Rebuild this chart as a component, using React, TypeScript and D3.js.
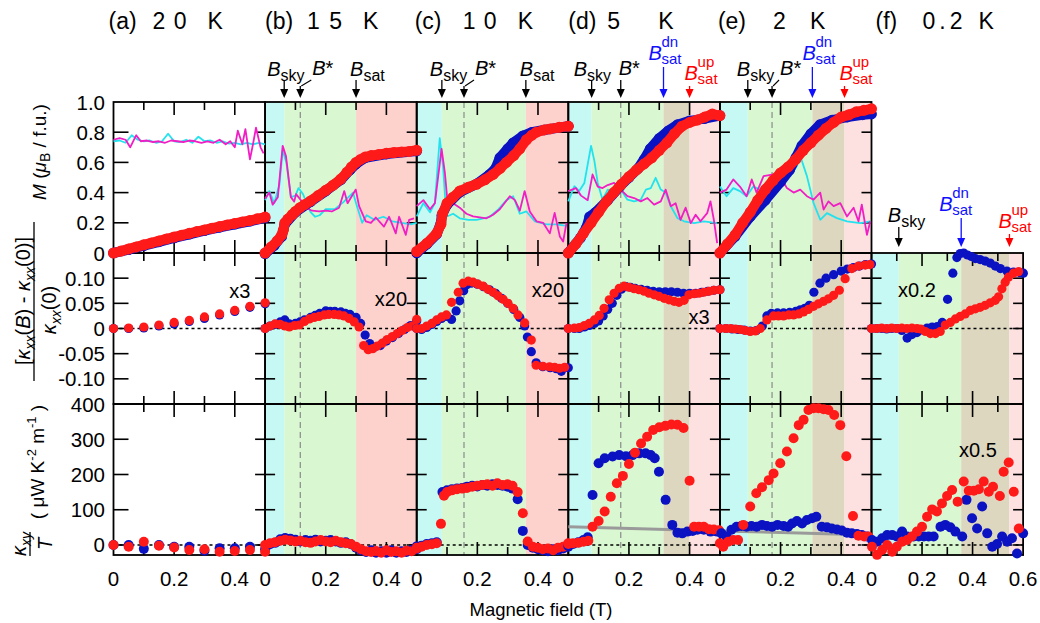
import React from "react";
import * as d3 from "d3";

type Pt = [number, number];

// ---------------- panel meta ----------------
const panelLetters = ["(a)", "(b)", "(c)", "(d)", "(e)", "(f)"];
const panelTemps = ["2 0", "1 5", "1 0", "5", "2", "0.2"];
const tempSpacing = [1, 1.5, 1, 0, 0, 4];
const titleLetterDx = [-5, 0, -2, 0, -2, 4];
const titleTempDx = [39, 42, 46, 39, 53, 51];
const titleKDx = [94, 98, 101, 90, 90, 107];
const panelXMax = [0.5, 0.5, 0.5, 0.5, 0.5, 0.6];
const xTickValues = [
  [0, 0.2, 0.4], [0, 0.2, 0.4], [0, 0.2, 0.4], [0, 0.2, 0.4], [0, 0.2, 0.4], [0, 0.2, 0.4, 0.6],
];
const yTicksM = [0, 0.2, 0.4, 0.6, 0.8, 1.0];
const yTicksK = [0.1, 0.05, 0, -0.05, -0.1];
const yTicksH = [400, 300, 200, 100, 0];

// characteristic fields (T)
const bSky = [NaN, 0.063, 0.083, 0.077, 0.092, 0.108];
const bStar = [NaN, 0.116, 0.156, 0.173, 0.172, NaN];
const bSatDn = [NaN, 0.30, 0.36, 0.314, 0.305, 0.355];
const bSatUp = [NaN, 0.30, 0.36, 0.40, 0.411, 0.546];
const skyLabelDx = [0, -17, -12, -18, -11, -11];
const starLabelDx = [0, 12, 11, -2, 8, 0];
const starSlant = [false, true, true, false, true, false];
const satLabelDx = [0, -6, -6, 0, 0, 0];
const satDnLabelDx = [0, 0, 0, -15, -10, -22];
const satUpLabelDx = [0, 0, 0, -5, -5, -11];

// ---------------- Row 1 : M (muB / f.u.) ----------------
const mA_red: Pt[] = [[0,0],[0.025,0.013],[0.05,0.027],[0.075,0.04],[0.1,0.054],[0.125,0.067],[0.15,0.08],[0.175,0.093],[0.2,0.106],[0.225,0.118],[0.25,0.13],[0.275,0.142],[0.3,0.153],[0.325,0.164],[0.35,0.175],[0.375,0.186],[0.4,0.196],[0.425,0.206],[0.45,0.215],[0.475,0.226],[0.5,0.238]];
const mA_blue: Pt[] = [[0,0],[0.05,0.022],[0.1,0.048],[0.15,0.074],[0.2,0.1],[0.25,0.124],[0.3,0.148],[0.35,0.17],[0.4,0.19],[0.45,0.21],[0.5,0.232]];
const mA_cyan: Pt[] = [[0,0.74],[0.02,0.745],[0.04,0.73],[0.06,0.78],[0.08,0.75],[0.1,0.74],[0.12,0.745],[0.14,0.73],[0.16,0.74],[0.18,0.79],[0.2,0.74],[0.22,0.735],[0.24,0.75],[0.26,0.73],[0.28,0.77],[0.3,0.74],[0.32,0.745],[0.34,0.73],[0.36,0.74],[0.38,0.725],[0.4,0.73],[0.42,0.72],[0.44,0.73],[0.46,0.72],[0.48,0.73],[0.5,0.72]];
const mA_mag: Pt[] = [[0,0.75],[0.02,0.76],[0.04,0.75],[0.055,0.7],[0.075,0.78],[0.09,0.74],[0.11,0.745],[0.13,0.735],[0.15,0.74],[0.17,0.73],[0.19,0.745],[0.21,0.74],[0.23,0.735],[0.25,0.745],[0.27,0.74],[0.29,0.73],[0.31,0.74],[0.33,0.73],[0.35,0.75],[0.37,0.72],[0.385,0.74],[0.4,0.7],[0.41,0.81],[0.425,0.72],[0.435,0.82],[0.45,0.62],[0.46,0.72],[0.47,0.83],[0.485,0.7],[0.495,0.66]];

const mB_red: Pt[] = [[0,0],[0.02,0.04],[0.04,0.08],[0.055,0.12],[0.06,0.15],[0.065,0.2],[0.075,0.225],[0.09,0.255],[0.1,0.275],[0.115,0.3],[0.13,0.32],[0.15,0.345],[0.175,0.38],[0.2,0.415],[0.225,0.45],[0.25,0.49],[0.27,0.535],[0.285,0.57],[0.3,0.6],[0.315,0.62],[0.33,0.635],[0.35,0.645],[0.375,0.652],[0.4,0.66],[0.425,0.665],[0.45,0.669],[0.475,0.673],[0.5,0.68]];
const mB_blue: Pt[] = [[0,-0.005],[0.03,0.05],[0.055,0.11],[0.065,0.19],[0.1,0.27],[0.15,0.34],[0.2,0.41],[0.25,0.485],[0.28,0.55],[0.3,0.59],[0.33,0.63],[0.4,0.655],[0.5,0.675]];
const mB_cyan: Pt[] = [[0,0.35],[0.014,0.41],[0.03,0.33],[0.047,0.45],[0.058,0.68],[0.07,0.6],[0.085,0.37],[0.1,0.38],[0.11,0.43],[0.125,0.39],[0.15,0.27],[0.165,0.24],[0.18,0.25],[0.2,0.29],[0.23,0.29],[0.26,0.34],[0.29,0.4],[0.3,0.33],[0.32,0.2],[0.335,0.25],[0.36,0.22],[0.39,0.24],[0.42,0.21],[0.45,0.2],[0.48,0.19],[0.5,0.2]];
const mB_mag: Pt[] = [[0,0.36],[0.014,0.4],[0.025,0.32],[0.042,0.37],[0.058,0.71],[0.069,0.64],[0.085,0.37],[0.096,0.34],[0.102,0.39],[0.118,0.35],[0.135,0.3],[0.155,0.28],[0.178,0.275],[0.2,0.28],[0.22,0.275],[0.244,0.3],[0.261,0.41],[0.272,0.33],[0.299,0.42],[0.31,0.31],[0.332,0.21],[0.349,0.2],[0.365,0.235],[0.392,0.175],[0.409,0.24],[0.431,0.13],[0.442,0.24],[0.464,0.12],[0.475,0.22],[0.491,0.23]];

const mC_red: Pt[] = [[0,0.01],[0.034,0.065],[0.066,0.13],[0.08,0.19],[0.085,0.26],[0.1,0.33],[0.12,0.37],[0.142,0.41],[0.17,0.435],[0.197,0.455],[0.225,0.485],[0.252,0.52],[0.275,0.56],[0.296,0.6],[0.32,0.645],[0.34,0.69],[0.362,0.75],[0.38,0.78],[0.395,0.8],[0.42,0.815],[0.44,0.822],[0.47,0.832],[0.5,0.84]];
const mC_blue: Pt[] = [[0,0],[0.034,0.06],[0.066,0.125],[0.08,0.2],[0.083,0.25],[0.1,0.32],[0.14,0.4],[0.2,0.46],[0.24,0.52],[0.26,0.56],[0.274,0.63],[0.3,0.69],[0.318,0.73],[0.35,0.776],[0.38,0.8],[0.42,0.815],[0.5,0.84]];
const mC_cyan: Pt[] = [[0,0.242],[0.022,0.33],[0.044,0.27],[0.06,0.33],[0.076,0.76],[0.087,0.57],[0.098,0.24],[0.12,0.26],[0.142,0.23],[0.17,0.22],[0.197,0.22],[0.22,0.23],[0.241,0.24],[0.27,0.29],[0.296,0.35],[0.318,0.376],[0.34,0.26],[0.362,0.275],[0.39,0.21],[0.428,0.19],[0.461,0.19],[0.494,0.18]];
const mC_mag: Pt[] = [[0,0.31],[0.022,0.35],[0.044,0.29],[0.06,0.33],[0.082,0.69],[0.093,0.53],[0.104,0.29],[0.12,0.33],[0.142,0.3],[0.164,0.26],[0.186,0.242],[0.23,0.23],[0.252,0.253],[0.274,0.29],[0.307,0.376],[0.324,0.35],[0.34,0.28],[0.356,0.41],[0.373,0.275],[0.395,0.21],[0.417,0.2],[0.439,0.13],[0.455,0.266],[0.472,0.11],[0.483,0.076],[0.494,0.2]];

const mD_red: Pt[] = [[0,0],[0.025,0.06],[0.05,0.13],[0.075,0.2],[0.1,0.27],[0.125,0.34],[0.15,0.4],[0.175,0.455],[0.2,0.505],[0.225,0.55],[0.25,0.59],[0.275,0.63],[0.3,0.68],[0.325,0.73],[0.35,0.79],[0.375,0.84],[0.4,0.865],[0.425,0.88],[0.45,0.9],[0.475,0.92],[0.5,0.91]];
const mD_blue: Pt[] = [[0,0],[0.04,0.1],[0.06,0.17],[0.07,0.24],[0.09,0.27],[0.13,0.35],[0.17,0.44],[0.2,0.5],[0.23,0.56],[0.25,0.62],[0.27,0.69],[0.3,0.76],[0.33,0.81],[0.36,0.85],[0.4,0.875],[0.45,0.89],[0.5,0.91]];
const mD_cyan: Pt[] = [[0,0.342],[0.02,0.442],[0.036,0.41],[0.053,0.464],[0.075,0.71],[0.086,0.61],[0.097,0.464],[0.113,0.353],[0.13,0.42],[0.151,0.4],[0.173,0.42],[0.195,0.353],[0.217,0.342],[0.239,0.353],[0.256,0.42],[0.272,0.43],[0.288,0.498],[0.305,0.42],[0.321,0.4],[0.338,0.31],[0.36,0.231],[0.382,0.21],[0.415,0.198],[0.447,0.21],[0.491,0.198]];
const mD_mag: Pt[] = [[0,0.41],[0.025,0.43],[0.042,0.38],[0.064,0.35],[0.08,0.52],[0.097,0.44],[0.113,0.43],[0.13,0.45],[0.151,0.464],[0.173,0.42],[0.195,0.376],[0.217,0.364],[0.239,0.342],[0.261,0.364],[0.283,0.32],[0.305,0.342],[0.321,0.42],[0.338,0.31],[0.354,0.33],[0.37,0.22],[0.387,0.3],[0.404,0.198],[0.42,0.253],[0.436,0.21],[0.458,0.264],[0.469,0.342],[0.48,0.22],[0.491,0.066]];

const mE_red: Pt[] = [[0,0],[0.025,0.06],[0.05,0.12],[0.075,0.2],[0.1,0.27],[0.125,0.35],[0.15,0.42],[0.175,0.48],[0.2,0.53],[0.225,0.57],[0.25,0.62],[0.275,0.68],[0.3,0.73],[0.325,0.78],[0.35,0.825],[0.375,0.865],[0.4,0.9],[0.425,0.915],[0.45,0.935],[0.475,0.945],[0.5,0.955]];
const mE_blue: Pt[] = [[0,0],[0.05,0.11],[0.1,0.24],[0.15,0.35],[0.2,0.47],[0.23,0.55],[0.25,0.63],[0.27,0.71],[0.3,0.79],[0.33,0.85],[0.37,0.88],[0.42,0.9],[0.47,0.915],[0.5,0.92]];
const mE_cyan: Pt[] = [[0,0.44],[0.022,0.376],[0.044,0.43],[0.066,0.41],[0.088,0.376],[0.11,0.44],[0.133,0.42],[0.155,0.453],[0.177,0.487],[0.199,0.52],[0.232,0.509],[0.254,0.576],[0.265,0.642],[0.287,0.509],[0.309,0.33],[0.331,0.22],[0.353,0.264],[0.386,0.231],[0.419,0.21],[0.463,0.198],[0.496,0.21]];
const mE_mag: Pt[] = [[0,0.4],[0.022,0.42],[0.044,0.487],[0.066,0.44],[0.088,0.376],[0.105,0.487],[0.121,0.4],[0.144,0.509],[0.177,0.52],[0.199,0.509],[0.221,0.43],[0.243,0.4],[0.265,0.42],[0.287,0.376],[0.309,0.353],[0.331,0.4],[0.342,0.287],[0.358,0.342],[0.375,0.31],[0.397,0.33],[0.419,0.242],[0.441,0.3],[0.457,0.21],[0.468,0.32],[0.485,0.12],[0.496,0.21]];

// ---------------- Row 2 : [kxx(B)-kxx(0)]/kxx(0) ----------------
const kA_red: Pt[] = [[0,0],[0.05,0.001],[0.1,0.003],[0.15,0.007],[0.2,0.012],[0.25,0.016],[0.3,0.023],[0.35,0.029],[0.4,0.036],[0.45,0.044],[0.5,0.051]];
const kA_blue: Pt[] = [[0,0],[0.05,0.0],[0.1,0.001],[0.15,0.005],[0.2,0.009],[0.25,0.014],[0.3,0.02],[0.35,0.027],[0.4,0.034],[0.45,0.042],[0.5,0.049]];
const kB_red: Pt[] = [[0,0],[0.016,0.005],[0.033,0.009],[0.05,0.008],[0.065,0.005],[0.08,0.003],[0.097,0.006],[0.113,0.007],[0.13,0.014],[0.146,0.019],[0.162,0.022],[0.178,0.024],[0.195,0.027],[0.21,0.028],[0.228,0.028],[0.244,0.027],[0.26,0.025],[0.277,0.02],[0.294,0.013],[0.31,0.003],[0.325,-0.034],[0.34,-0.042],[0.355,-0.04],[0.37,-0.035],[0.387,-0.029],[0.403,-0.022],[0.42,-0.016],[0.436,-0.01],[0.452,-0.004],[0.469,0.002],[0.485,0.005],[0.5,0.018]];
const kB_blue: Pt[] = [[0,0],[0.016,0.005],[0.033,0.008],[0.05,0.013],[0.065,0.017],[0.08,0.009],[0.1,0.01],[0.115,0.013],[0.13,0.017],[0.15,0.022],[0.165,0.026],[0.18,0.03],[0.2,0.035],[0.215,0.034],[0.23,0.034],[0.25,0.033],[0.265,0.03],[0.28,0.028],[0.3,0.022],[0.315,0.01],[0.33,-0.013],[0.345,-0.03],[0.36,-0.037],[0.38,-0.034],[0.4,-0.025],[0.42,-0.018],[0.44,-0.01],[0.46,-0.002],[0.48,0.006],[0.5,0.015]];
const kC_red: Pt[] = [[0,0],[0.016,0],[0.033,0.005],[0.05,0.01],[0.066,0.017],[0.082,0.023],[0.098,0.027],[0.115,0.052],[0.137,0.072],[0.153,0.09],[0.17,0.094],[0.186,0.092],[0.202,0.088],[0.219,0.084],[0.235,0.078],[0.252,0.072],[0.268,0.065],[0.285,0.058],[0.301,0.05],[0.318,0.04],[0.334,0.027],[0.356,0.011],[0.378,-0.023],[0.394,-0.073],[0.416,-0.075],[0.438,-0.076],[0.455,-0.077],[0.471,-0.079],[0.488,-0.077]];
const kC_blue: Pt[] = [[0,0],[0.016,-0.002],[0.033,0.002],[0.05,0.008],[0.066,0.014],[0.082,0.02],[0.1,0.024],[0.115,0.018],[0.13,0.035],[0.142,0.055],[0.155,0.075],[0.165,0.087],[0.18,0.09],[0.2,0.088],[0.22,0.083],[0.24,0.077],[0.26,0.07],[0.28,0.06],[0.3,0.05],[0.32,0.038],[0.34,0.022],[0.356,0.005],[0.365,-0.017],[0.378,-0.046],[0.394,-0.068],[0.416,-0.076],[0.44,-0.078],[0.46,-0.08],[0.477,-0.085],[0.5,-0.078]];
const kD_red: Pt[] = [[0,0],[0.02,0.001],[0.036,0.002],[0.053,0.006],[0.069,0.01],[0.086,0.017],[0.102,0.026],[0.118,0.04],[0.135,0.057],[0.151,0.07],[0.168,0.08],[0.184,0.084],[0.2,0.082],[0.217,0.079],[0.233,0.077],[0.25,0.074],[0.266,0.07],[0.283,0.067],[0.299,0.064],[0.316,0.06],[0.332,0.057],[0.349,0.054],[0.365,0.052],[0.382,0.056],[0.398,0.067],[0.415,0.069],[0.431,0.07],[0.447,0.072],[0.464,0.074],[0.48,0.076],[0.5,0.077]];
const kD_blue: Pt[] = [[0,0],[0.02,0.0],[0.036,0.0],[0.053,0.003],[0.07,0.006],[0.086,0.01],[0.1,0.015],[0.115,0.025],[0.13,0.038],[0.145,0.05],[0.16,0.066],[0.175,0.078],[0.19,0.083],[0.205,0.082],[0.22,0.08],[0.24,0.078],[0.26,0.076],[0.28,0.074],[0.3,0.073],[0.32,0.073],[0.34,0.073],[0.36,0.072],[0.38,0.07],[0.4,0.07],[0.42,0.07],[0.44,0.072],[0.46,0.074],[0.48,0.076],[0.5,0.077]];
const kE_red: Pt[] = [[0,0],[0.019,0],[0.035,0],[0.051,-0.001],[0.068,-0.002],[0.084,-0.004],[0.1,-0.006],[0.117,-0.005],[0.133,0],[0.155,0.017],[0.177,0.025],[0.193,0.025],[0.21,0.025],[0.227,0.027],[0.243,0.027],[0.26,0.029],[0.276,0.033],[0.292,0.038],[0.309,0.044],[0.325,0.049],[0.342,0.054],[0.358,0.059],[0.375,0.066],[0.394,0.076],[0.413,0.099],[0.435,0.119],[0.457,0.124],[0.479,0.126],[0.495,0.127]];
const kE_blue: Pt[] = [[0,0],[0.02,0],[0.04,-0.001],[0.06,-0.002],[0.08,-0.003],[0.1,-0.005],[0.12,-0.004],[0.14,0.005],[0.155,0.025],[0.17,0.03],[0.19,0.031],[0.21,0.031],[0.23,0.032],[0.25,0.034],[0.265,0.037],[0.28,0.04],[0.295,0.046],[0.31,0.072],[0.33,0.09],[0.35,0.1],[0.375,0.107],[0.4,0.114],[0.42,0.118],[0.44,0.121],[0.46,0.124],[0.48,0.127],[0.5,0.128]];
const kF_red: Pt[] = [[0,0],[0.02,0],[0.04,0.001],[0.06,0],[0.08,0.001],[0.1,0],[0.12,0.001],[0.14,0],[0.16,0.001],[0.18,0],[0.195,-0.001],[0.213,-0.006],[0.233,-0.01],[0.253,-0.01],[0.272,-0.006],[0.292,0.007],[0.312,0.012],[0.332,0.019],[0.351,0.024],[0.371,0.029],[0.391,0.036],[0.411,0.039],[0.43,0.042],[0.45,0.046],[0.47,0.051],[0.49,0.056],[0.503,0.063],[0.516,0.079],[0.529,0.092],[0.542,0.102],[0.562,0.11],[0.582,0.113]];
const kF_blue: Pt[] = [[0,0],[0.02,0],[0.04,0],[0.06,-0.001],[0.08,0],[0.1,0],[0.12,-0.004],[0.141,-0.019],[0.16,-0.012],[0.18,-0.008],[0.2,-0.003],[0.22,0.001],[0.24,0.003],[0.26,0.004],[0.28,0.012],[0.301,0.058],[0.322,0.11],[0.338,0.141],[0.351,0.149],[0.365,0.15],[0.38,0.146],[0.395,0.143],[0.411,0.139],[0.43,0.137],[0.45,0.134],[0.47,0.13],[0.49,0.124],[0.51,0.119],[0.536,0.114],[0.562,0.112],[0.588,0.111],[0.601,0.11]];

// ---------------- Row 3 : kxy/T ----------------
const hA_red: Pt[] = [[0,0],[0.05,-5],[0.1,9],[0.15,-2],[0.2,-7],[0.25,-14],[0.3,-12],[0.35,-19],[0.4,-17],[0.45,-14],[0.5,-19]];
const hA_blue: Pt[] = [[0,0],[0.05,0],[0.1,-11],[0.15,0],[0.2,-5],[0.25,-5],[0.3,-16],[0.35,-9],[0.4,-9],[0.45,-5],[0.5,-12]];
const hB_red: Pt[] = [[0,0],[0.016,5],[0.033,8],[0.05,12],[0.066,15],[0.083,13],[0.1,10],[0.116,12],[0.133,8],[0.15,6],[0.166,10],[0.183,14],[0.2,10],[0.216,8],[0.233,12],[0.25,8],[0.266,5],[0.283,3],[0.3,-5],[0.316,-12],[0.333,-18],[0.35,-20],[0.366,-17],[0.383,-22],[0.4,-15],[0.416,-20],[0.433,-18],[0.45,-22],[0.466,-16],[0.483,-18],[0.5,-10]];
const hB_blue: Pt[] = [[0.016,2],[0.033,6],[0.05,16],[0.066,20],[0.083,18],[0.1,15],[0.116,10],[0.133,14],[0.15,12],[0.166,15],[0.183,10],[0.2,12],[0.216,14],[0.233,10],[0.25,6],[0.266,8],[0.283,2],[0.3,-8],[0.316,-15],[0.333,-20],[0.35,-15],[0.366,-22],[0.383,-18],[0.4,-22],[0.416,-15],[0.433,-22],[0.45,-18],[0.466,-20],[0.483,-14],[0.5,-12]];
const hC_red: Pt[] = [[0,-8],[0.016,-5],[0.033,0],[0.05,2],[0.066,5],[0.08,60],[0.09,140],[0.1,150],[0.116,155],[0.133,158],[0.15,160],[0.166,162],[0.183,165],[0.2,168],[0.216,170],[0.233,172],[0.25,168],[0.266,175],[0.283,170],[0.3,172],[0.316,168],[0.333,150],[0.35,90],[0.366,10],[0.383,-5],[0.4,-8],[0.416,-12],[0.433,-10],[0.45,-15],[0.466,-8],[0.483,-5],[0.5,5]];
const hC_blue: Pt[] = [[0,-4],[0.016,-2],[0.033,3],[0.05,5],[0.066,8],[0.085,150],[0.1,155],[0.116,158],[0.133,160],[0.15,162],[0.166,165],[0.183,168],[0.2,166],[0.216,170],[0.233,168],[0.25,172],[0.266,170],[0.283,168],[0.3,165],[0.316,160],[0.333,130],[0.35,40],[0.366,0],[0.383,-8],[0.4,-12],[0.416,-15],[0.433,-18],[0.45,-12],[0.466,-15],[0.483,-10],[0.5,-5]];
const hD_red: Pt[] = [[0,3],[0.016,5],[0.033,6],[0.05,9],[0.066,12],[0.08,52],[0.1,68],[0.12,95],[0.14,137],[0.16,175],[0.18,196],[0.2,230],[0.22,262],[0.24,288],[0.26,307],[0.28,326],[0.3,334],[0.32,338],[0.34,342],[0.36,341],[0.38,332],[0.4,182],[0.415,52],[0.431,52],[0.447,52],[0.464,45],[0.48,44],[0.497,42]];
const hD_blue: Pt[] = [[0,-3],[0.016,3],[0.033,8],[0.05,14],[0.064,22],[0.08,142],[0.1,232],[0.12,246],[0.146,251],[0.168,255],[0.19,252],[0.212,255],[0.234,260],[0.255,260],[0.272,255],[0.285,246],[0.299,208],[0.321,128],[0.343,57],[0.36,35],[0.376,33],[0.393,38],[0.41,40],[0.426,43],[0.447,43],[0.469,38],[0.491,38]];
const hE_red: Pt[] = [[0,5],[0.011,-5],[0.027,9],[0.044,14],[0.06,14],[0.077,57],[0.1,109],[0.12,147],[0.139,164],[0.161,184],[0.177,203],[0.199,232],[0.221,265],[0.243,303],[0.26,340],[0.276,355],[0.292,383],[0.309,388],[0.325,388],[0.342,385],[0.358,383],[0.377,369],[0.397,340],[0.417,252],[0.439,82],[0.457,26],[0.476,24],[0.49,24]];
const hE_blue: Pt[] = [[0.005,33],[0.022,24],[0.038,43],[0.055,52],[0.071,54],[0.088,52],[0.104,54],[0.121,52],[0.139,57],[0.155,54],[0.172,52],[0.19,57],[0.21,54],[0.225,52],[0.238,61],[0.254,68],[0.271,61],[0.287,71],[0.304,76],[0.318,80],[0.336,52],[0.353,50],[0.369,47],[0.386,44],[0.402,41],[0.419,35],[0.435,33],[0.452,31],[0.468,28],[0.485,24]];
const hF_red: Pt[] = [[0.002,-5],[0.022,-28],[0.042,-14],[0.062,0],[0.082,-19],[0.1,-5],[0.121,9],[0.141,14],[0.16,24],[0.18,38],[0.2,52],[0.22,80],[0.24,101],[0.259,95],[0.279,118],[0.299,139],[0.319,156],[0.341,123],[0.365,180],[0.385,154],[0.405,154],[0.425,158],[0.444,180],[0.464,151],[0.481,165],[0.508,139],[0.523,208],[0.543,234],[0.563,151],[0.583,47]];
const hF_blue: Pt[] = [[0.002,14],[0.022,9],[0.042,19],[0.062,28],[0.082,28],[0.1,24],[0.121,38],[0.141,24],[0.167,24],[0.187,24],[0.207,24],[0.226,24],[0.246,24],[0.273,52],[0.292,57],[0.312,50],[0.332,38],[0.359,24],[0.376,128],[0.398,76],[0.418,47],[0.438,109],[0.458,33],[0.478,-5],[0.497,3],[0.517,24],[0.537,9],[0.556,19],[0.576,-24],[0.6,33]];
const grayD: Pt[] = [[0,52],[0.5,40]];
const grayE: Pt[] = [[0,40],[0.5,28]];

const mRed = [mA_red, mB_red, mC_red, mD_red, mE_red];
const mBlue = [mA_blue, mB_blue, mC_blue, mD_blue, mE_blue];
const mCyan = [mA_cyan, mB_cyan, mC_cyan, mD_cyan, mE_cyan];
const mMag = [mA_mag, mB_mag, mC_mag, mD_mag, mE_mag];
const kRed = [kA_red, kB_red, kC_red, kD_red, kE_red, kF_red];
const kBlue = [kA_blue, kB_blue, kC_blue, kD_blue, kE_blue, kF_blue];
const hRed = [hA_red, hB_red, hC_red, hD_red, hE_red, hF_red];
const hBlue = [hA_blue, hB_blue, hC_blue, hD_blue, hE_blue, hF_blue];

// multiplier labels: [panel, row, B, value, text]
const multLabels: [number, number, number, number, string][] = [
  [0, 1, 0.417, 0.074, "x3"],
  [1, 1, 0.415, 0.058, "x20"],
  [2, 1, 0.433, 0.076, "x20"],
  [3, 1, 0.431, 0.0235, "x3"],
  [5, 1, 0.18, 0.076, "x0.2"],
  [5, 2, 0.421, 270, "x0.5"],
];

// ---------------- styling ----------------
const FONT = "'Liberation Sans', Arial, Helvetica, sans-serif";
const BLUE = "#0b12c2";
const RED = "#ff1a1a";
const CYAN = "#22e2ee";
const MAG = "#f01ec4";
const BG_CYAN = "#c6f8f4";
const BG_GREEN = "#d9f8d2";
const BG_TAN = "#ddd7bf";
const BG_PINK1 = "#fdd2cd";
const BG_PINK2 = "#fde0e0";

const X0 = 113.5;
const PW = 151.6;
const ROW_TOP = [102, 253, 404];
const ROW_BOT = [253, 404, 555];
const TICK_FS = 20.5;

const yM = d3.scaleLinear().domain([0, 1]).range([253, 102]);
const yK = d3.scaleLinear().domain([-0.15, 0.15]).range([404, 253]);
const yH = d3.scaleLinear().domain([-28.4, 400]).range([555, 404]);
const yRows = [yM, yK, yH];

const xs = panelXMax.map((m, i) =>
  d3.scaleLinear().domain([0, m]).range([X0 + i * PW, X0 + (i + 1) * PW])
);

function rowsOf(i: number) {
  return i === 5 ? [1, 2] : [0, 1, 2];
}

function Arrow({ x, y1, y2, color }: { x: number; y1: number; y2: number; color: string }) {
  return (
    <g>
      <line x1={x} x2={x} y1={y1} y2={y2 - 7} stroke={color} strokeWidth={1.3} />
      <path d={`M${x - 4},${y2 - 9} L${x + 4},${y2 - 9} L${x},${y2} Z`} fill={color} />
    </g>
  );
}

function BSub({ x, y, sub, color }: { x: number; y: number; sub: string; color: string }) {
  return (
    <text x={x} y={y} fontSize={20} fill={color}>
      <tspan fontStyle="italic">B</tspan>
      <tspan fontSize={16} dy={5}>{sub}</tspan>
    </text>
  );
}

function BSat({ x, y, sup, color }: { x: number; y: number; sup: string; color: string }) {
  return (
    <g fill={color}>
      <text x={x} y={y} fontSize={20} fontStyle="italic">B</text>
      <text x={x + 13} y={y - 13} fontSize={15}>{sup}</text>
      <text x={x + 13} y={y + 4} fontSize={15}>sat</text>
    </g>
  );
}

export default function App() {
  const lineGen = (x: d3.ScaleLinear<number, number>, y: d3.ScaleLinear<number, number>) =>
    d3.line<Pt>().x((d) => x(d[0])).y((d) => y(d[1]));

  return (
    <svg width={1040} height={623} style={{ position: "absolute", left: 0, top: 0 }} fontFamily={FONT}>
      <rect width={1040} height={623} fill="#fff" />

      {/* backgrounds */}
      {[1, 2, 3, 4, 5].map((i) => {
        const x = xs[i];
        const top = i === 5 ? ROW_TOP[1] : ROW_TOP[0];
        const h = ROW_BOT[2] - top;
        const segs: [number, number, string][] = [
          [0, bSky[i], BG_CYAN],
          [bSky[i], bSatDn[i], BG_GREEN],
          [bSatDn[i], bSatUp[i], BG_TAN],
          [bSatUp[i], panelXMax[i], i <= 2 ? BG_PINK1 : BG_PINK2],
        ];
        return segs
          .filter((s) => s[1] > s[0])
          .map((s, k) => (
            <rect key={`bg${i}-${k}`} x={x(s[0])} y={top} width={x(s[1]) - x(s[0])} height={h} fill={s[2]} />
          ));
      })}

      {/* B* dashed lines */}
      {[1, 2, 3, 4].map((i) => (
        <line key={`star${i}`} x1={xs[i](bStar[i])} x2={xs[i](bStar[i])} y1={ROW_TOP[0]} y2={ROW_BOT[2]}
          stroke="#8a8a8a" strokeWidth={1.2} strokeDasharray="6 4" />
      ))}

      {/* zero lines */}
      {xs.map((x, i) => (
        <g key={`zero${i}`}>
          <line x1={x(0)} x2={x(panelXMax[i])} y1={yK(0)} y2={yK(0)} stroke="#000" strokeWidth={1.5} strokeDasharray="3 3" />
          <line x1={x(0)} x2={x(panelXMax[i])} y1={yH(0)} y2={yH(0)} stroke="#000" strokeWidth={1.5} strokeDasharray="3 3" />
        </g>
      ))}

      {/* borders and ticks */}
      {xs.map((x, i) =>
        rowsOf(i).map((r) => {
          const top = ROW_TOP[r], bot = ROW_BOT[r];
          const left = x(0), right = x(panelXMax[i]);
          const n = Math.round(panelXMax[i] / 0.1);
          const xt = d3.range(1, n);
          const yScale = yRows[r];
          const yt = (r === 0 ? yTicksM : r === 1 ? yTicksK : yTicksH).filter(
            (v) => yScale(v) > top + 2 && yScale(v) < bot - 2
          );
          const lenL = i === 0 ? 15 : 10;
          return (
            <g key={`frame${i}-${r}`} stroke="#000" strokeWidth={1.6}>
              {xt.map((k) => {
                const len = k % 2 === 0 ? 13 : 8;
                const xx = x(k * 0.1);
                return (
                  <g key={k}>
                    <line x1={xx} x2={xx} y1={top} y2={top + len} />
                    <line x1={xx} x2={xx} y1={bot} y2={bot - len} />
                  </g>
                );
              })}
              {yt.map((v) => (
                <g key={v}>
                  <line x1={left} x2={left + lenL} y1={yScale(v)} y2={yScale(v)} />
                  <line x1={right} x2={right - 10} y1={yScale(v)} y2={yScale(v)} />
                </g>
              ))}
              <rect x={left} y={top} width={right - left} height={bot - top} fill="none" strokeWidth={1.8} />
            </g>
          );
        })
      )}

      {/* row 1 : dM/dB lines */}
      {mCyan.map((d, i) => (
        <g key={`dmdb${i}`} fill="none" strokeWidth={1.8} strokeLinejoin="round">
          <path d={lineGen(xs[i], yM)(d) || ""} stroke={CYAN} />
          <path d={lineGen(xs[i], yM)(mMag[i]) || ""} stroke={MAG} />
        </g>
      ))}

      {/* row 1 : magnetization (dense dots) */}
      {mRed.map((d, i) => (
        <g key={`mag${i}`}>
          <path d={lineGen(xs[i], yM)(mBlue[i]) || ""} stroke={BLUE} strokeWidth={10} fill="none" strokeLinecap="round" strokeLinejoin="round" />
          {mBlue[i].map((p, k) => <circle key={`b${k}`} cx={xs[i](p[0])} cy={yM(p[1])} r={5.3} fill={BLUE} />)}
          <path d={lineGen(xs[i], yM)(d) || ""} stroke={RED} strokeWidth={10} fill="none" strokeLinecap="round" strokeLinejoin="round" />
          {d.map((p, k) => <circle key={`r${k}`} cx={xs[i](p[0])} cy={yM(p[1])} r={5.5} fill={RED} />)}
        </g>
      ))}

      {/* gray reference line */}
      <path d={lineGen(xs[3], yH)(grayD) || ""} stroke="#9a9a9a" strokeWidth={3} fill="none" />
      <path d={lineGen(xs[4], yH)(grayE) || ""} stroke="#9a9a9a" strokeWidth={3} fill="none" />

      {/* rows 2 and 3 dots */}
      {kRed.map((d, i) => (
        <g key={`k${i}`}>
          {kBlue[i].map((p, k) => <circle key={`kb${k}`} cx={xs[i](p[0])} cy={yK(p[1])} r={4.6} fill={BLUE} />)}
          {d.map((p, k) => <circle key={`kr${k}`} cx={xs[i](p[0])} cy={yK(p[1])} r={4.6} fill={RED} />)}
          {hBlue[i].map((p, k) => <circle key={`hb${k}`} cx={xs[i](p[0])} cy={yH(p[1])} r={5} fill={BLUE} />)}
          {hRed[i].map((p, k) => <circle key={`hr${k}`} cx={xs[i](p[0])} cy={yH(p[1])} r={5} fill={RED} />)}
        </g>
      ))}

      {/* multiplier labels */}
      {multLabels.map(([i, r, b, v, t], k) => (
        <text key={`ml${k}`} x={xs[i](b)} y={yRows[r](v)} fontSize={20} textAnchor="middle" dominantBaseline="central">{t}</text>
      ))}

      {/* top annotations */}
      {[1, 2, 3, 4, 5].map((i) => {
        const x = xs[i];
        const top = i === 5 ? ROW_TOP[1] : ROW_TOP[0];
        const f = i === 5;
        const end = top - (f ? 6 : 4);
        const xs1 = x(bSky[i]);
        const parts: any[] = [];
        parts.push(<BSub key="sky" x={xs1 + skyLabelDx[i]} y={top - (f ? 31 : 26)} sub="sky" color="#000" />);
        parts.push(<Arrow key="skyA" x={xs1} y1={top - (f ? 26 : 22)} y2={end} color="#000" />);
        if (!isNaN(bStar[i])) {
          const xs2 = x(bStar[i]);
          const lx = xs2 + starLabelDx[i];
          parts.push(
            <text key="star" x={lx} y={top - 27} fontSize={20}>
              <tspan fontStyle="italic">B</tspan>*
            </text>
          );
          if (starSlant[i]) {
            parts.push(<line key="sl" x1={lx - 1} y1={top - 22} x2={xs2 + 1} y2={top - 16} stroke="#000" strokeWidth={1.1} />);
            parts.push(<Arrow key="starA" x={xs2} y1={top - 16} y2={end} color="#000" />);
          } else {
            parts.push(<Arrow key="starA" x={xs2} y1={top - 22} y2={end} color="#000" />);
          }
        }
        if (i <= 2) {
          const xs3 = x(bSatDn[i]);
          parts.push(<BSub key="sat" x={xs3 + satLabelDx[i]} y={top - 26} sub="sat" color="#000" />);
          parts.push(<Arrow key="satA" x={xs3} y1={top - 22} y2={end} color="#000" />);
        } else {
          const xd = x(bSatDn[i]);
          const xu = x(bSatUp[i]);
          parts.push(<BSat key="dn" x={xd + satDnLabelDx[i]} y={top - 42} sup="dn" color="#1010ff" />);
          parts.push(<Arrow key="dnA" x={xd} y1={top - 35} y2={end} color="#1010ff" />);
          parts.push(<BSat key="up" x={xu + satUpLabelDx[i]} y={top - (f ? 25 : 22)} sup="up" color="#ff0000" />);
          parts.push(<Arrow key="upA" x={xu} y1={top - (f ? 19 : 16)} y2={end} color="#ff0000" />);
        }
        return <g key={`ann${i}`}>{parts}</g>;
      })}

      {/* titles */}
      {xs.map((x, i) => (
        <g key={`title${i}`} fontSize={23}>
          <text x={x(0) + titleLetterDx[i]} y={29}>{panelLetters[i]}</text>
          <text x={x(0) + titleTempDx[i]} y={29} letterSpacing={tempSpacing[i]} style={{ whiteSpace: "pre" }}>{panelTemps[i]}</text>
          <text x={x(0) + titleKDx[i]} y={29}>K</text>
        </g>
      ))}

      {/* x tick labels */}
      {xs.map((x, i) =>
        xTickValues[i].map((v) => (
          <text key={`xl${i}-${v}`} x={x(v)} y={586} fontSize={TICK_FS} textAnchor="middle">{v === 0 ? "0" : v.toFixed(1)}</text>
        ))
      )}

      {/* y tick labels */}
      {yTicksM.map((v) => (
        <text key={`ym${v}`} x={105} y={yM(v) + 7.5} fontSize={TICK_FS} textAnchor="end">{v === 0 ? "0" : v.toFixed(1)}</text>
      ))}
      {yTicksK.map((v) => (
        <text key={`yk${v}`} x={105} y={yK(v) + 7.5} fontSize={TICK_FS} textAnchor="end">{v === 0 ? "0" : v.toFixed(2)}</text>
      ))}
      {yTicksH.map((v) => (
        <text key={`yh${v}`} x={105} y={yH(v) + 7.5} fontSize={TICK_FS} textAnchor="end">{String(v)}</text>
      ))}

      {/* axis titles */}
      <text transform="translate(46,152) rotate(-90)" fontSize={19} textAnchor="middle">
        <tspan fontStyle="italic">M</tspan> (<tspan fontStyle="italic">μ</tspan>
        <tspan fontSize={14} dy={4}>B</tspan>
        <tspan dy={-4}> / f.u.)</tspan>
      </text>

      <text transform="translate(30,301) rotate(-90)" fontSize={20} textAnchor="middle">
        [<tspan fontStyle="italic">κ</tspan><tspan fontSize={14} dy={5} fontStyle="italic">xx</tspan>
        <tspan dy={-5}>(</tspan><tspan fontStyle="italic">B</tspan>) - <tspan fontStyle="italic">κ</tspan>
        <tspan fontSize={14} dy={5} fontStyle="italic">xx</tspan><tspan dy={-5}>(0)]</tspan>
      </text>
      <line x1={34} x2={34} y1={222} y2={381} stroke="#000" strokeWidth={1.3} />
      <text transform="translate(56,310) rotate(-90)" fontSize={20} textAnchor="middle">
        <tspan fontStyle="italic">κ</tspan><tspan fontSize={14} dy={5} fontStyle="italic">xx</tspan>
        <tspan dy={-5}>(0)</tspan>
      </text>

      <text transform="translate(26,544) rotate(-90)" fontSize={20} textAnchor="middle">
        <tspan fontStyle="italic">κ</tspan><tspan fontSize={14} dy={5} fontStyle="italic">xy</tspan>
      </text>
      <line x1={30} x2={30} y1={532} y2={556} stroke="#000" strokeWidth={1.3} />
      <text transform="translate(52,544) rotate(-90)" fontSize={20} textAnchor="middle" fontStyle="italic">T</text>
      <text transform="translate(44,462) rotate(-90)" fontSize={19} textAnchor="middle" style={{ whiteSpace: "pre" }}>
        ( μW K<tspan fontSize={13} dy={-8}>-2</tspan><tspan dy={8}> m</tspan><tspan fontSize={13} dy={-8}>-1</tspan><tspan dy={8}> )</tspan>
      </text>

      <text x={541} y={616} fontSize={18.5} textAnchor="middle">Magnetic field (T)</text>
    </svg>
  );
}
